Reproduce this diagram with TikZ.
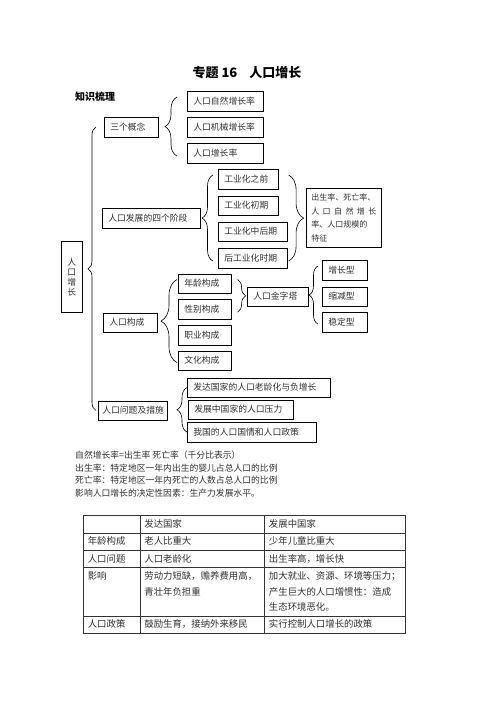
\documentclass[tikz,border=0pt]{standalone}
\usepackage{fontspec}
\setmainfont{Noto Sans CJK SC}
\usepackage{array}
\usetikzlibrary{decorations.pathreplacing}

\begin{document}
\begin{tikzpicture}[x=1pt,y=-1pt,
	every node/.style={font=\fontsize{8.8pt}{10pt}\selectfont},
	box/.style={draw, line width=0.6pt, anchor=north west, inner xsep=6pt, inner ysep=0pt, minimum height=19.5pt, align=left, text=black!80},
	brace/.style={decorate, decoration={brace, amplitude=#1}, line width=0.6pt}]
	\fill[white] (0,0) rectangle (496,702);
	\useasboundingbox (0,0) rectangle (496,702);
	% heading
	\node[font=\fontsize{13pt}{15pt}\selectfont\bfseries] (title) at (247,73) {专题 16\hspace{12pt}人口增长};
	\node[anchor=west, inner sep=0pt, font=\fontsize{10pt}{12pt}\selectfont\bfseries] (outline) at (75,97) {知识梳理};
	% root
	\node[draw, line width=0.6pt, anchor=north west, minimum width=21pt, minimum height=71pt, inner sep=0pt, align=center, text=black!80] (root) at (61,241) {人\\口\\增\\长};
	% three concepts
	\node[box, text width=42pt] (concepts) at (104,117) {三个概念};
	\node[box, text width=64pt] (c1) at (187,91) {人口自然增长率};
	\node[box, text width=64pt] (c2) at (187,117) {人口机械增长率};
	\node[box, text width=64pt] (c3) at (187,143) {人口增长率};
	% four stages
	\node[box, text width=86pt] (stages) at (102,208) {人口发展的四个阶段};
	\node[box, text width=48pt] (s1) at (218,169) {工业化之前};
	\node[box, text width=48pt] (s2) at (218,195.5) {工业化初期};
	\node[box, text width=57pt] (s3) at (218,221.5) {工业化中后期};
	\node[box, text width=57pt] (s4) at (218,248) {后工业化时期};
	\node[box, inner xsep=5pt, text width=65pt, minimum height=59pt, font=\fontsize{8pt}{13.5pt}\selectfont] (feat) at (306,188) {出生率、死亡率、\\\makebox[65pt][s]{人\hfill 口\hfill 自\hfill 然\hfill 增\hfill 长}\\率、人口规模的\\特征};
	% composition
	\node[box, text width=42pt] (comp) at (103,312.5) {人口构成};
	\node[box, text width=41pt] (age) at (178,273.5) {年龄构成};
	\node[box, text width=41pt] (sex) at (178,299) {性别构成};
	\node[box, text width=41pt] (job) at (178,325) {职业构成};
	\node[box, text width=41pt] (cul) at (178,350.5) {文化构成};
	\node[box, text width=49pt] (pyr) at (247,286.5) {人口金字塔};
	\node[box, text width=33pt] (grow) at (322,260) {增长型};
	\node[box, text width=33pt] (shrink) at (322,286.5) {缩减型};
	\node[box, text width=33pt] (stable) at (322,312) {稳定型};
	% problems
	\node[box, inner xsep=4pt, text width=61pt] (issue) at (98,400.5) {人口问题及措施};
	\node[box, text width=131pt] (p1) at (187,377.5) {发达国家的人口老龄化与负增长};
	\node[box, text width=93pt] (p2) at (188,399.5) {发展中国家的人口压力};
	\node[box, text width=117pt] (p3) at (187,422) {我国的人口国情和人口政策};
	% braces
	\draw[brace=8pt] ([xshift=-2pt]issue.west) -- ([xshift=-8pt]concepts.west);
	\draw[brace=12pt] ([xshift=-10pt,yshift=7pt]c3.south west) -- ([xshift=-10pt,yshift=-6pt]c1.north west);
	\draw[brace=11pt] ([xshift=-5pt,yshift=7pt]s4.south west) -- ([xshift=-5pt,yshift=-6pt]s1.north west);
	\draw[brace=15pt] ([xshift=10pt,yshift=-6pt]s1.north east) -- ([xshift=1pt,yshift=7pt]s4.south east);
	\draw[brace=16pt] ([xshift=-1pt,yshift=8pt]cul.south west) -- ([xshift=-1pt,yshift=-6pt]age.north west);
	\draw[brace=8pt] ([xshift=6pt,yshift=-6pt]age.north east) -- ([xshift=6pt,yshift=7pt]sex.south east);
	\draw[brace=9pt] ([xshift=-4pt,yshift=8pt]stable.south west) -- ([xshift=-4pt,yshift=-6pt]grow.north west);
	\draw[brace=10pt] ([yshift=10pt]p3.south west) -- ([yshift=-10pt]p1.north west);
	% notes
	\node[anchor=west, align=left, inner sep=0pt, text=black!80, font=\fontsize{8.8pt}{12.7pt}\selectfont] (notes) at (75,474) {自然增长率=出生率 死亡率（千分比表示）\\出生率：特定地区一年内出生的婴儿占总人口的比例\\死亡率：特定地区一年内死亡的人数占总人口的比例\\影响人口增长的决定性因素：生产力发展水平。};
	% comparison table
	\node[anchor=north west, inner sep=0pt, text=black!80, font=\fontsize{9.4pt}{15.5pt}\selectfont] (tab) at (83,515) {\setlength{\tabcolsep}{4pt}\setlength{\arrayrulewidth}{0.6pt}\renewcommand{\arraystretch}{1.08}%
		\begin{tabular}{|p{48pt}|p{116pt}|p{132pt}|}
			\hline
			 & 发达国家 & 发展中国家 \\ \hline
			年龄构成 & 老人比重大 & 少年儿童比重大 \\ \hline
			人口问题 & 人口老龄化 & 出生率高，增长快 \\ \hline
			影响 & 劳动力短缺，赡养费用高，\newline 青壮年负担重 & 加大就业、资源、环境等压力；\newline 产生巨大的人口增惯性：造成\newline 生态环境恶化。 \\ \hline
			人口政策 & 鼓励生育，接纳外来移民 & 实行控制人口增长的政策 \\ \hline
		\end{tabular}};
\end{tikzpicture}
\end{document}
